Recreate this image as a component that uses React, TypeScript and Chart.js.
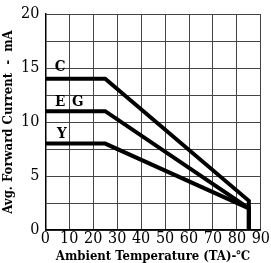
import React, { useEffect, useRef } from "react";
import { Chart, registerables } from "chart.js";

Chart.register(...registerables);

const xTicks = [0, 10, 20, 30, 40, 50, 60, 70, 80, 90];
const yLabelValues = [0, 5, 10, 15, 20];
const seriesC = [
  { x: 0, y: 14 },
  { x: 25, y: 14 },
  { x: 85, y: 2.7 },
  { x: 85, y: 0 },
];
const seriesEG = [
  { x: 0, y: 11 },
  { x: 25, y: 11 },
  { x: 85, y: 2 },
  { x: 85, y: 0 },
];
const seriesY = [
  { x: 0, y: 8 },
  { x: 25, y: 8 },
  { x: 85, y: 2 },
  { x: 85, y: 0 },
];
const curveLabels = ["C", "E", "G", "Y"];
const curveLabelX = [6.2, 6.2, 13.6, 6.9];
const curveLabelY = [15.1, 11.8, 11.8, 8.9];

const FONT = '"DejaVu Serif Condensed", "DejaVu Serif", serif';

const labelPlugin = {
  id: "curveLabels",
  afterDatasetsDraw(chart: any) {
    const { ctx, scales } = chart;
    ctx.save();
    ctx.fillStyle = "#000";
    ctx.font = `bold 15px ${FONT}`;
    ctx.textAlign = "center";
    ctx.textBaseline = "middle";
    curveLabels.forEach((t, i) => {
      ctx.fillText(
        t,
        scales.x.getPixelForValue(curveLabelX[i]),
        scales.y.getPixelForValue(curveLabelY[i])
      );
    });
    ctx.restore();
  },
};

export default function App() {
  const ref = useRef<HTMLCanvasElement>(null);
  useEffect(() => {
    if (!ref.current) return;
    const mk = (data: any[]) => ({
      data,
      borderColor: "#000",
      borderWidth: 4,
      pointRadius: 0,
      fill: false,
      tension: 0,
      clip: false as any,
    });
    const chart = new Chart(ref.current, {
      type: "line",
      data: {
        datasets: [mk(seriesC), mk(seriesEG), mk(seriesY)],
      },
      options: {
        animation: false,
        responsive: false,
        plugins: { legend: { display: false }, tooltip: { enabled: false } },
        layout: { padding: { top: 0, right: 0, left: 2, bottom: 0 } },
        scales: {
          x: {
            type: "linear",
            min: 0,
            max: 90,
            afterBuildTicks: (axis: any) => {
              axis.ticks = xTicks.map((v) => ({ value: v }));
            },
            grid: { color: "#444", lineWidth: 1, drawTicks: false },
            border: { color: "#000", width: 1.5 },
            ticks: {
              color: "#000",
              padding: 1,
              maxRotation: 0,
              autoSkip: false,
              font: { family: FONT, size: 16, lineHeight: 1 },
            },
            title: {
              display: true,
              text: "Ambient Temperature (TA)-℃",
              color: "#000",
              padding: { top: 2, bottom: 0 },
              font: { family: FONT, size: 13, weight: "bold", lineHeight: 1 },
            },
          },
          y: {
            type: "linear",
            min: 0,
            max: 20,
            ticks: {
              stepSize: 2.5,
              color: "#000",
              padding: 6,
              autoSkip: false,
              font: { family: FONT, size: 16, lineHeight: 1 },
              callback: (v: any) =>
                yLabelValues.includes(Number(v)) ? String(v) : "",
            },
            grid: { color: "#444", lineWidth: 1, drawTicks: false },
            border: { color: "#000", width: 1.5 },
            title: {
              display: true,
              text: "Avg. Forward Current  -  mA",
              color: "#000",
              padding: { top: 0, bottom: 0 },
              font: { family: FONT, size: 13, weight: "bold", lineHeight: 1 },
            },
          },
        },
      },
      plugins: [labelPlugin],
    });
    return () => chart.destroy();
  }, []);
  return (
    <div style={{ position: "fixed", left: 0, top: 0, width: 271, height: 263, background: "#fff" }}>
      <canvas ref={ref} width={271} height={263} style={{ display: "block" }} />
    </div>
  );
}
